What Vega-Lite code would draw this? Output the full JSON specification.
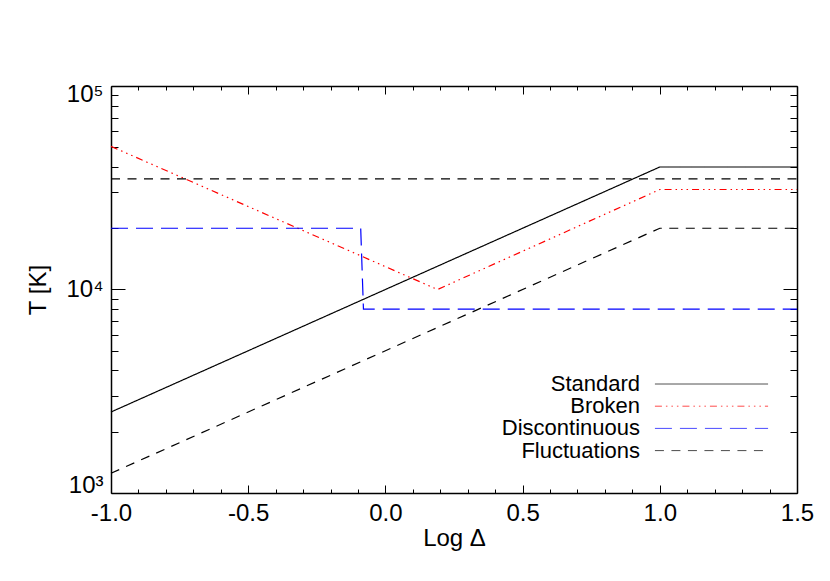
{
  "$schema": "https://vega.github.io/schema/vega-lite/v6.json",
  "width": 686,
  "height": 407,
  "autosize": {"type": "none"},
  "padding": {"left": 111, "top": 86, "right": 33, "bottom": 88},
  "background": "white",
  "config": {
    "view": {"stroke": null},
    "font": "Liberation Sans",
    "axis": {
      "grid": false,
      "domainColor": "#000",
      "tickColor": "#000",
      "labelColor": "#000",
      "titleColor": "#000",
      "labelFont": "Liberation Sans",
      "titleFont": "Liberation Sans",
      "titleFontWeight": "normal",
      "tickWidth": 1
    }
  },
  "data": {
    "values": [
      {"model": "Standard", "part": "s", "logDelta": -1.0, "T": 2500},
      {"model": "Standard", "part": "s", "logDelta": 1.0, "T": 40000},
      {"model": "Standard", "part": "s", "logDelta": 1.5, "T": 40000},
      {"model": "Broken", "part": "b", "logDelta": -1.0, "T": 50500},
      {"model": "Broken", "part": "b", "logDelta": 0.19, "T": 10000},
      {"model": "Broken", "part": "b", "logDelta": 1.0, "T": 31000},
      {"model": "Broken", "part": "b", "logDelta": 1.5, "T": 31000},
      {"model": "Discontinuous", "part": "d", "logDelta": -1.0, "T": 20000},
      {"model": "Discontinuous", "part": "d", "logDelta": -0.09, "T": 20000},
      {"model": "Discontinuous", "part": "d", "logDelta": -0.08, "T": 8000},
      {"model": "Discontinuous", "part": "d", "logDelta": 1.5, "T": 8000},
      {"model": "Fluctuations", "part": "upper", "logDelta": -1.0, "T": 35000},
      {"model": "Fluctuations", "part": "upper", "logDelta": 1.5, "T": 35000},
      {"model": "Fluctuations", "part": "lower", "logDelta": -1.0, "T": 1250},
      {"model": "Fluctuations", "part": "lower", "logDelta": 1.0, "T": 20000},
      {"model": "Fluctuations", "part": "lower", "logDelta": 1.5, "T": 20000}
    ]
  },
  "layer": [
    {
      "mark": {"type": "line", "strokeWidth": 1.2},
      "encoding": {
        "x": {
          "field": "logDelta",
          "type": "quantitative",
          "scale": {"domain": [-1, 1.5], "nice": false, "zero": false},
          "axis": {
            "orient": "bottom",
            "values": [-1, -0.5, 0, 0.5, 1, 1.5],
            "labelExpr": "datum.value < 0 ? '-' + format(-datum.value, '.1f') : format(datum.value, '.1f')",
            "ticks": false,
            "labelFontSize": 24,
            "labelPadding": 8,
            "labelFlush": false,
            "labelOverlap": false,
            "domainWidth": 1.5,
            "title": "Log Δ",
            "titleFontSize": 24,
            "titlePadding": 1
          }
        },
        "y": {
          "field": "T",
          "type": "quantitative",
          "scale": {"type": "log", "domain": [1000, 100000], "nice": false},
          "axis": {
            "orient": "left",
            "values": [1000, 10000, 100000],
            "labelExpr": "datum.value == 1000 ? '10³' : datum.value == 10000 ? '10⁴' : '10⁵'",
            "ticks": false,
            "labelFontSize": 24,
            "labelPadding": 8,
            "labelFlush": true,
            "labelFlushOffset": 4,
            "labelOverlap": false,
            "domainWidth": 1.5,
            "title": "T [K]",
            "titleFontSize": 24,
            "titlePadding": 15
          }
        },
        "color": {
          "field": "model",
          "type": "nominal",
          "scale": {
            "domain": ["Standard", "Broken", "Discontinuous", "Fluctuations"],
            "range": ["#000000", "#ff0000", "#0000ff", "#000000"]
          },
          "legend": {
            "title": null,
            "orient": "none",
            "legendX": 589.5,
            "legendY": 287,
            "symbolType": "M-10,0L10,0",
            "symbolSize": 128,
            "symbolStrokeWidth": 1,
            "symbolOpacity": 0.7,
            "labelAlign": "right",
            "labelOffset": -82.5,
            "labelFontSize": 22,
            "labelFont": "Liberation Sans",
            "labelColor": "#000",
            "labelLimit": 0,
            "rowPadding": 0.2,
            "padding": 0
          }
        },
        "strokeDash": {
          "field": "model",
          "type": "nominal",
          "scale": {
            "domain": ["Standard", "Broken", "Discontinuous", "Fluctuations"],
            "range": [[1, 0], [7, 4, 1.5, 4, 1.5, 4, 1.5, 4], [17, 8], [9, 7.5]]
          },
          "legend": {
            "title": null,
            "orient": "none",
            "legendX": 589.5,
            "legendY": 287,
            "symbolType": "M-10,0L10,0",
            "symbolSize": 128,
            "symbolStrokeWidth": 1,
            "symbolOpacity": 0.7,
            "labelAlign": "right",
            "labelOffset": -82.5,
            "labelFontSize": 22,
            "labelFont": "Liberation Sans",
            "labelColor": "#000",
            "labelLimit": 0,
            "rowPadding": 0.2,
            "padding": 0
          }
        },
        "detail": {"field": "part", "type": "nominal"}
      }
    },
    {
      "mark": {"type": "point", "opacity": 0},
      "encoding": {
        "x": {"field": "logDelta", "type": "quantitative",
          "axis": {"orient": "bottom", "values": [-1, -0.5, 0, 0.5, 1, 1.5], "labels": false, "domain": false, "title": null, "tickSize": -8}},
        "y": {"field": "T", "type": "quantitative",
          "axis": {"orient": "left", "values": [1000, 10000, 100000], "labels": false, "domain": false, "title": null, "tickSize": -14}}
      }
    },
    {
      "mark": {"type": "point", "opacity": 0},
      "encoding": {
        "x": {"field": "logDelta", "type": "quantitative",
          "axis": {"orient": "bottom", "values": [-0.9, -0.8, -0.7, -0.6, -0.4, -0.3, -0.2, -0.1, 0.1, 0.2, 0.3, 0.4, 0.6, 0.7, 0.8, 0.9, 1.1, 1.2, 1.3, 1.4], "labels": false, "domain": false, "title": null, "tickSize": -4}},
        "y": {"field": "T", "type": "quantitative",
          "axis": {"orient": "left", "values": [2000, 3000, 4000, 5000, 6000, 7000, 8000, 9000, 20000, 30000, 40000, 50000, 60000, 70000, 80000, 90000], "labels": false, "domain": false, "title": null, "tickSize": -7}}
      }
    },
    {
      "mark": {"type": "point", "opacity": 0},
      "encoding": {
        "x": {"field": "logDelta", "type": "quantitative",
          "axis": {"orient": "top", "values": [-1, -0.5, 0, 0.5, 1, 1.5], "labels": false, "domain": true, "domainWidth": 1.5, "title": null, "tickSize": -8}},
        "y": {"field": "T", "type": "quantitative",
          "axis": {"orient": "right", "values": [1000, 10000, 100000], "labels": false, "domain": true, "domainWidth": 1.5, "title": null, "tickSize": -14}}
      }
    },
    {
      "mark": {"type": "point", "opacity": 0},
      "encoding": {
        "x": {"field": "logDelta", "type": "quantitative",
          "axis": {"orient": "top", "values": [-0.9, -0.8, -0.7, -0.6, -0.4, -0.3, -0.2, -0.1, 0.1, 0.2, 0.3, 0.4, 0.6, 0.7, 0.8, 0.9, 1.1, 1.2, 1.3, 1.4], "labels": false, "domain": false, "title": null, "tickSize": -4}},
        "y": {"field": "T", "type": "quantitative",
          "axis": {"orient": "right", "values": [2000, 3000, 4000, 5000, 6000, 7000, 8000, 9000, 20000, 30000, 40000, 50000, 60000, 70000, 80000, 90000], "labels": false, "domain": false, "title": null, "tickSize": -7}}
      }
    }
  ],
  "resolve": {"axis": {"x": "independent", "y": "independent"}}
}
